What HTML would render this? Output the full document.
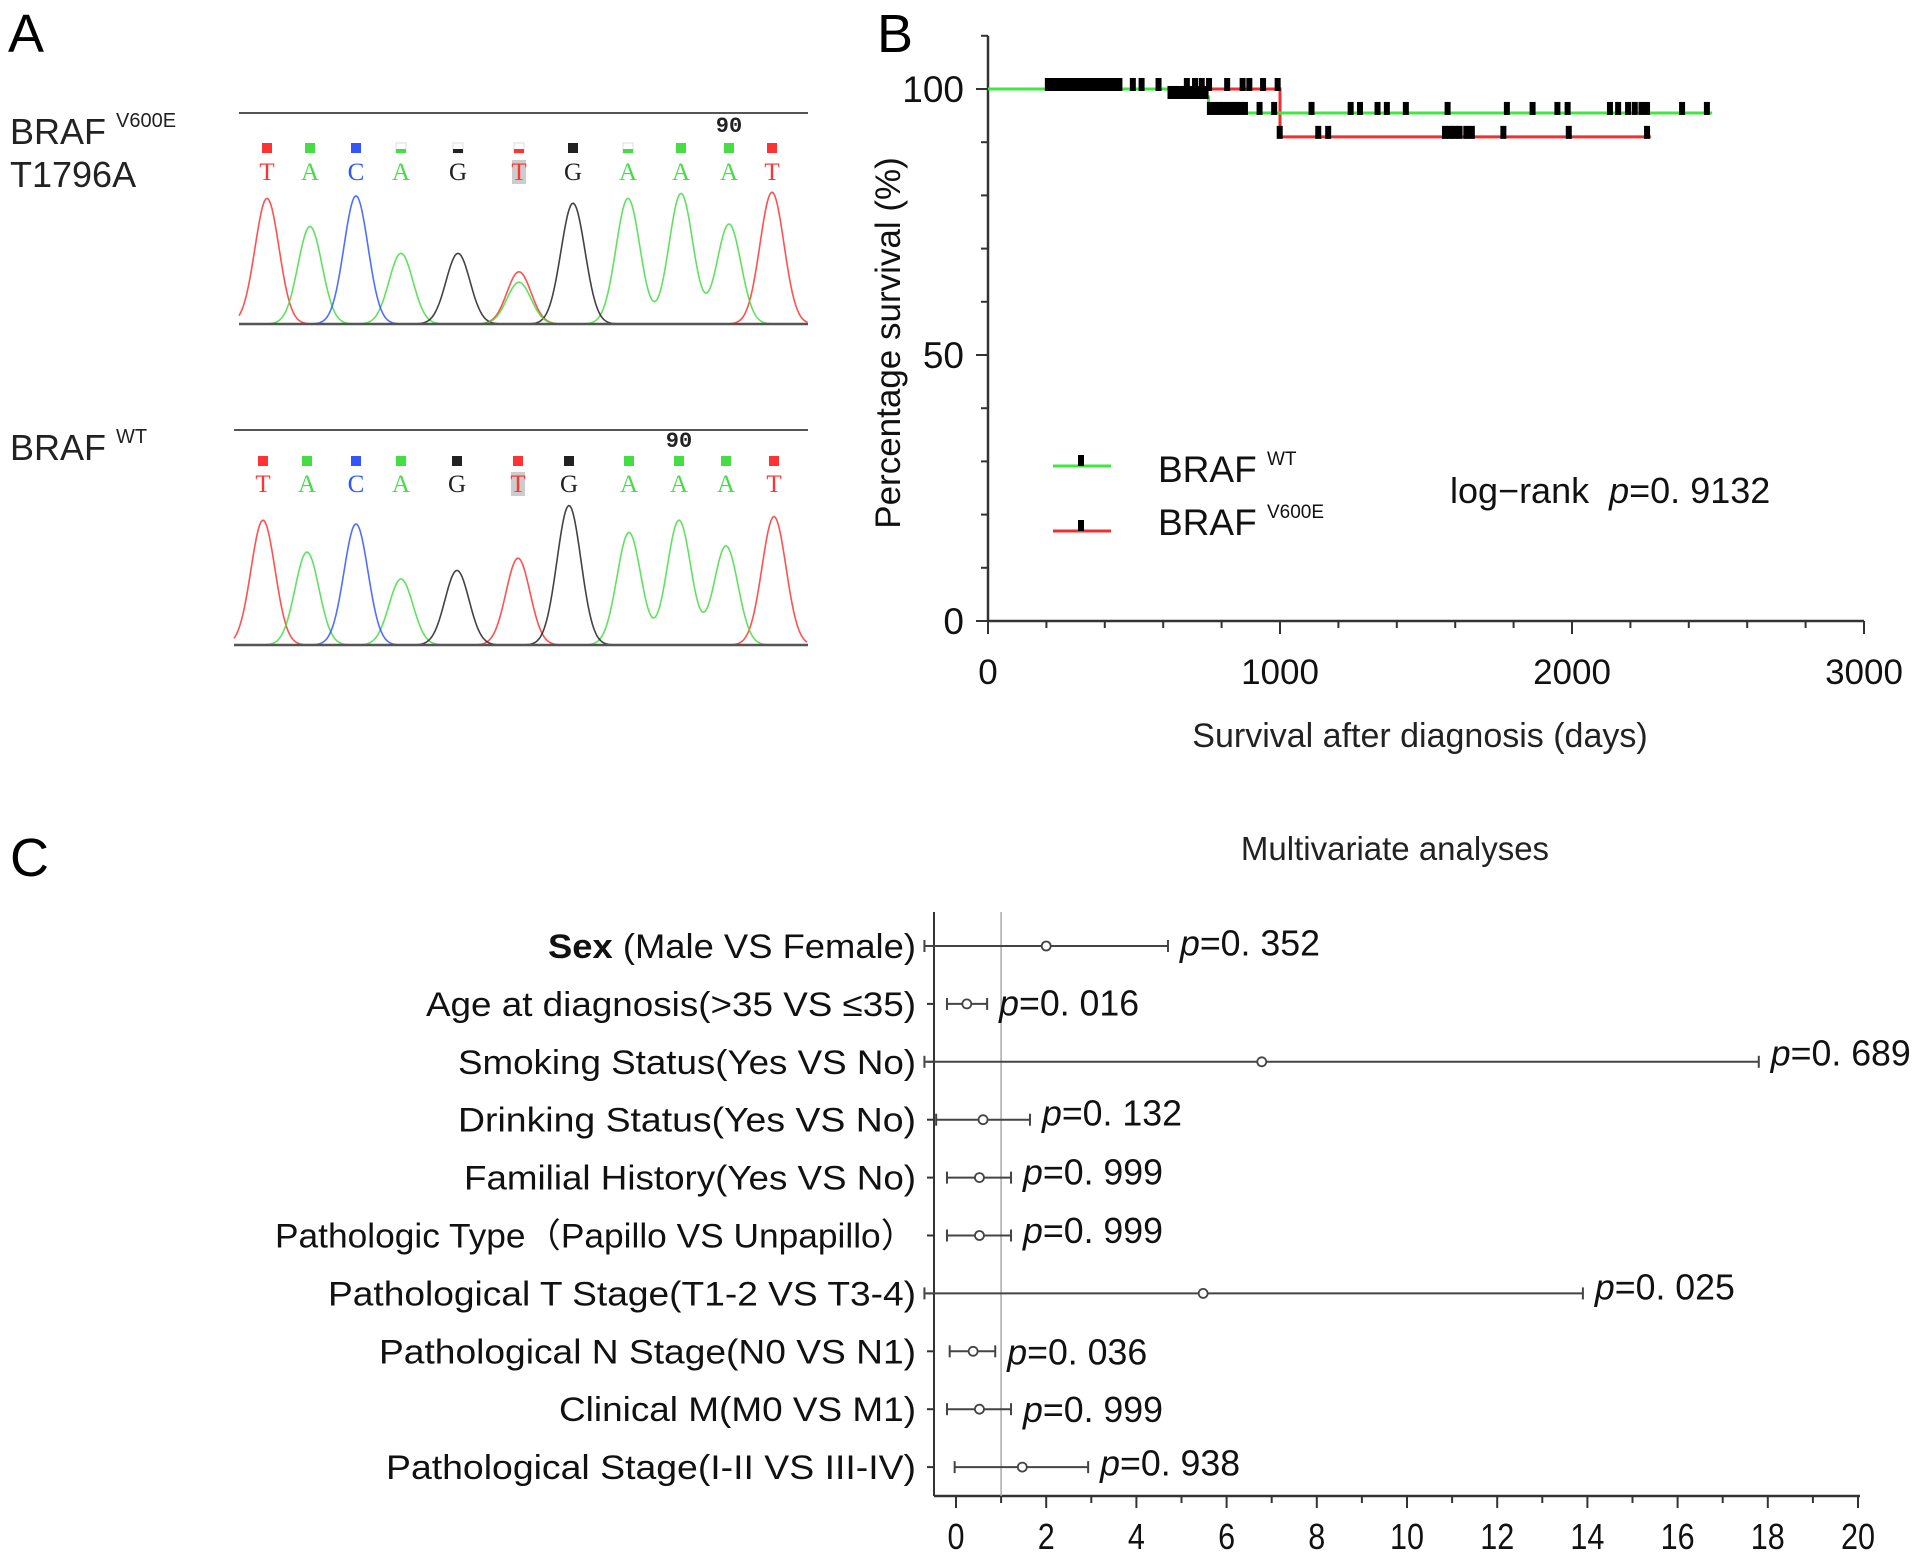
<!DOCTYPE html>
<html><head><meta charset="utf-8"><style>
html,body{margin:0;padding:0;background:#fff;}
svg{display:block;font-family:"Liberation Sans",sans-serif;}
</style></head><body>
<svg id="fig" width="1913" height="1557" viewBox="0 0 1913 1557" xmlns="http://www.w3.org/2000/svg">
<rect width="1913" height="1557" fill="#fff"/>
<g id="pa">
<text x="8" y="52" font-size="54">A</text>
<text x="10" y="144" font-size="36" fill="#222">BRAF <tspan font-size="20" dy="-17">V600E</tspan></text>
<text x="10" y="187" font-size="36" fill="#222">T1796A</text>
<text x="10" y="460" font-size="36" fill="#222">BRAF <tspan font-size="20" dy="-17">WT</tspan></text>
</g>
<g id="pb">
<text x="877" y="52" font-size="54">B</text>
<text transform="translate(900,343) rotate(-90)" text-anchor="middle" font-size="35" fill="#111">Percentage survival (%)</text>
<text x="1420" y="747" text-anchor="middle" font-size="34" fill="#222">Survival after diagnosis (days)</text>
<g>
<line x1="1053" y1="466" x2="1111" y2="466" stroke="#3ee83e" stroke-width="3"/>
<rect x="1078" y="455" width="6" height="11" fill="#000"/>
<line x1="1053" y1="531" x2="1111" y2="531" stroke="#ee3030" stroke-width="3"/>
<rect x="1078" y="520" width="6" height="11" fill="#000"/>
<text x="1158" y="482" font-size="37" fill="#111">BRAF <tspan font-size="19" dy="-17">WT</tspan></text>
<text x="1158" y="535" font-size="37" fill="#111">BRAF <tspan font-size="19" dy="-17">V600E</tspan></text>
</g>
<text x="1450" y="503" font-size="36" fill="#111" xml:space="preserve">log−rank  <tspan font-style="italic">p</tspan>=0. 9132</text>
</g>
<g id="pc">
<text x="10" y="876" font-size="54">C</text>
<text x="1395" y="860" text-anchor="middle" font-size="33" fill="#222">Multivariate analyses</text>
</g>
</svg>
<script>
// ---------- Panel A data ----------
const seqBases = ["T","A","C","A","G","T","G","A","A","A","T"];
const seqTopPos = [267,310,356,401,458,519,573,628,681,729,772];
const seqTopPeak = [162,185,160,207,207,222,166,162,158,183,157];
const seqBotPos = [263,307,356,401,457,518,569,629,679,726,774];
const seqBotPeak = [425,451,428,473,466,456,413,435,425,446,422];
// ---------- Panel B data ----------
const kmTicksX = [0,1000,2000,3000];
const kmTicksY = [0,50,100];
const wtSteps = [[0,100],[640,98.5],[755,95.5],[2480,95.5]];
const mutSteps = [[0,100],[1000,91],[2270,91]];
const censor100 = [205,220,235,250,265,280,295,310,325,340,355,370,385,400,415,430,450,496,526,584,681,709,732,757,819,872,895,942,992];
const censor985 = [625,640,655,670,685,700,715,730,745];
const censor955 = [760,775,790,805,820,835,850,865,880,930,980,1108,1242,1274,1334,1366,1431,1574,1777,1865,1950,1985,2130,2158,2192,2215,2238,2257,2377,2462];
const censor91 = [999,1131,1165,1565,1582,1598,1615,1638,1657,1765,1989,2257];
// ---------- Panel C data ----------
const fpLabels = ["Age at diagnosis(>35 VS ≤35)","Smoking Status(Yes VS No)","Drinking Status(Yes  VS No)","Familial History(Yes VS No)","Pathologic  Type（Papillo  VS Unpapillo）","Pathological T Stage(T1-2 VS T3-4)","Pathological N Stage(N0 VS N1)","Clinical M(M0 VS M1)","Pathological Stage(I-II VS III-IV)"];
const fpPoint = [2.0,0.24,6.78,0.6,0.52,0.52,5.48,0.38,0.52,1.47];
const fpLow = [-0.7,-0.2,-0.7,-0.44,-0.2,-0.2,-0.7,-0.14,-0.2,-0.03];
const fpHigh = [4.7,0.69,17.8,1.64,1.22,1.22,13.9,0.87,1.22,2.93];
const fpPvals = ["0. 352","0. 016","0. 689","0. 132","0. 999","0. 999","0. 025","0. 036","0. 999","0. 938"];
const fpTicks = [0,2,4,6,8,10,12,14,16,18,20];

const NS="http://www.w3.org/2000/svg";
function mk(tag,attrs,parent){const e=document.createElementNS(NS,tag);for(const k in attrs)e.setAttribute(k,attrs[k]);parent.appendChild(e);return e;}
const pa=document.getElementById('pa'),pb=document.getElementById('pb'),pc=document.getElementById('pc');
const colorOf={T:"#ff3333",A:"#44dd44",C:"#3355ff",G:"#222222"};
const hollow=[false,false,false,true,true,true,false,true,false,false,false];

function chromatogram(pos,peaks,base,topLine,sqY,letY,x0,x1,label90x,label90y,hollowArr){
  const g=mk('g',{},pa);
  
  
  const tl=mk('line',{x1:x0,y1:topLine,x2:x1,y2:topLine,stroke:'#555','stroke-width':2},g);
  
  
  const n=mk('text',{x:label90x,y:label90y,'font-size':22,'font-family':'Liberation Mono, monospace','font-weight':'bold',fill:'#222','text-anchor':'middle'},g);
  n.textContent='90';
  
  
  const sigma=12;
  ["T","A","C","G"].forEach(b=>{
    let d="";
    for(let x=x0;x<=x1;x+=1.5){
      let s=0;
      for(let i=0;i<pos.length;i++){ if(seqBases[i]===b){const h=base-peaks[i];s+=h*Math.exp(-((x-pos[i])**2)/(2*sigma*sigma));} }
      d+=(d?"L":"M")+x.toFixed(1)+" "+(base-s).toFixed(1);
    }
    const p=mk('path',{d:d,fill:'none',stroke:colorOf[b],'stroke-width':1.6,opacity:0.85},g);
    
    
  });
  if(hollowArr){
    let d="";const i=5,h=(base-peaks[i])*0.8;
    for(let x=pos[i]-40;x<=pos[i]+40;x+=1.5){d+=(d?"L":"M")+x.toFixed(1)+" "+(base-h*Math.exp(-((x-pos[i])**2)/(2*sigma*sigma))).toFixed(1);}
    const p=mk('path',{d:d,fill:'none',stroke:'#44dd44','stroke-width':1.6,opacity:0.85},g);
    
    
  }
  const bl=mk('line',{x1:x0,y1:base,x2:x1,y2:base,stroke:'#555','stroke-width':2.5},g);
  
  
  for(let i=0;i<pos.length;i++){
    const c=colorOf[seqBases[i]];
    if(hollowArr&&hollowArr[i]){
      const r=mk('rect',{x:pos[i]-5,y:sqY-5,width:10,height:10,fill:'#fff',stroke:'#ddd','stroke-width':1},g);
      
      
      const r2=mk('rect',{x:pos[i]-5,y:sqY+1,width:10,height:4,fill:c},g);
      
      
    } else {
      const r=mk('rect',{x:pos[i]-5,y:sqY-5,width:10,height:10,fill:c},g);
      
      
    }
    if(i===5){const hb=mk('rect',{x:pos[i]-7,y:letY-20,width:14,height:24,fill:'#ccc'},g);
      
      }
    const t=mk('text',{x:pos[i],y:letY,'font-size':25,'font-family':'Liberation Serif, serif','text-anchor':'middle',fill:c},g);
    t.textContent=seqBases[i];
    
    
  }
}
chromatogram(seqTopPos,seqTopPeak.map(v=>v*1.224),324,113,148,180,239,808,729,132,hollow);
chromatogram(seqBotPos,seqBotPeak.map(v=>v*1.224),645,430,461,492,234,808,679,447,null);

// ---------- Panel B ----------
const X0=988,XW=876/3000,Y0=621,YS=5.32;
const kx=d=>X0+d*XW, ky=p=>Y0-p*YS;
let ax=mk('line',{x1:X0,y1:ky(110),x2:X0,y2:Y0,stroke:'#333','stroke-width':2.5},pb);


ax=mk('line',{x1:X0,y1:Y0,x2:kx(3000),y2:Y0,stroke:'#333','stroke-width':2.5},pb);


for(let p=0;p<=110;p+=10){const l=mk('line',{x1:X0-(p%50===0?12:7),y1:ky(p),x2:X0,y2:ky(p),stroke:'#333','stroke-width':2},pb);
  
  }
for(let d=0;d<=3000;d+=200){const l=mk('line',{x1:kx(d),y1:Y0,x2:kx(d),y2:Y0+(d%1000===0?13:7),stroke:'#333','stroke-width':2},pb);
  
  }
kmTicksY.forEach(v=>{const t=mk('text',{x:964,y:ky(v)+13,'text-anchor':'end','font-size':37,fill:'#111'},pb);t.textContent=v;
  
  });
kmTicksX.forEach(v=>{const t=mk('text',{x:kx(v),y:684,'text-anchor':'middle','font-size':35,fill:'#111'},pb);t.textContent=v;
  
  });
function stepPath(s){let d="M"+kx(s[0][0])+" "+ky(s[0][1]);for(let i=1;i<s.length;i++){d+="H"+kx(s[i][0])+"V"+ky(s[i][1]);}return d;}
let pth=mk('path',{d:stepPath(mutSteps),fill:'none',stroke:'#ee3030','stroke-width':3},pb);


pth=mk('path',{d:stepPath(wtSteps),fill:'none',stroke:'#3ee83e','stroke-width':3},pb);


function censors(arr,level){arr.forEach(d=>{const r=mk('rect',{x:kx(d)-3,y:ky(level)-11,width:6,height:13,fill:'#000'},pb);
  
  });}
censors(censor100,100);censors(censor985,98.5);censors(censor955,95.5);censors(censor91,91);

// ---------- Panel C ----------
const CX0=956,CXS=45.1,rowY0=946,rowDY=57.9,axisL=934,axisB=1496;
const cx=v=>CX0+v*CXS, ry=i=>rowY0+i*rowDY;
const labelLeft=[448,348,374,374,379,225,268,310,457,315];
const pCenter=[770,819,860,909,957,1005,1051,1104,1151,1195];
let ln=mk('line',{x1:axisL,y1:912,x2:axisL,y2:axisB,stroke:'#333','stroke-width':2},pc);


ln=mk('line',{x1:axisL,y1:axisB,x2:cx(20)+2,y2:axisB,stroke:'#333','stroke-width':2.5},pc);


ln=mk('line',{x1:cx(1),y1:912,x2:cx(1),y2:axisB,stroke:'#aaa','stroke-width':1.5},pc);


for(let v=0;v<=20;v++){const l=mk('line',{x1:cx(v),y1:axisB,x2:cx(v),y2:axisB+(v%2===0?12:7),stroke:'#333','stroke-width':2},pc);
  
  }
fpTicks.forEach(v=>{const t=mk('text',{x:cx(v),y:1549,'text-anchor':'middle','font-size':36,fill:'#111',textLength:String(v).length*17,lengthAdjust:'spacingAndGlyphs'},pc);t.textContent=v;
  
  });
const allLabels=["Sex"].concat(fpLabels);
fpPoint.forEach((pt,i)=>{
  const y=ry(i);
  const tk=mk('line',{x1:axisL-7,y1:y,x2:axisL,y2:y,stroke:'#333','stroke-width':2},pc);
  
  
  const w=(916-labelLeft[i]*1.224);
  const t=mk('text',{x:916,y:y+12,'text-anchor':'end','font-size':34,fill:'#111',textLength:w.toFixed(0),lengthAdjust:'spacingAndGlyphs'},pc);
  if(i===0){t.innerHTML='<tspan font-weight="bold">Sex</tspan> (Male VS Female)';}
  else t.textContent=allLabels[i];
  
  
  const l=mk('line',{x1:cx(fpLow[i]),y1:y,x2:cx(fpHigh[i]),y2:y,stroke:'#444','stroke-width':2},pc);
  
  
  [fpLow[i],fpHigh[i]].forEach(v=>{const c=mk('line',{x1:cx(v),y1:y-6,x2:cx(v),y2:y+6,stroke:'#444','stroke-width':2},pc);
    
    });
  const c=mk('circle',{cx:cx(pt),cy:y,r:4.5,fill:'#fff',stroke:'#444','stroke-width':1.8},pc);
  
  
  const pt2=mk('text',{x:cx(fpHigh[i])+12,y:pCenter[i]*1.224+13,'font-size':36,fill:'#111',textLength:140,lengthAdjust:'spacingAndGlyphs'},pc);
  pt2.innerHTML='<tspan font-style="italic">p</tspan>='+fpPvals[i];
  
  
});
</script>
</body></html>
